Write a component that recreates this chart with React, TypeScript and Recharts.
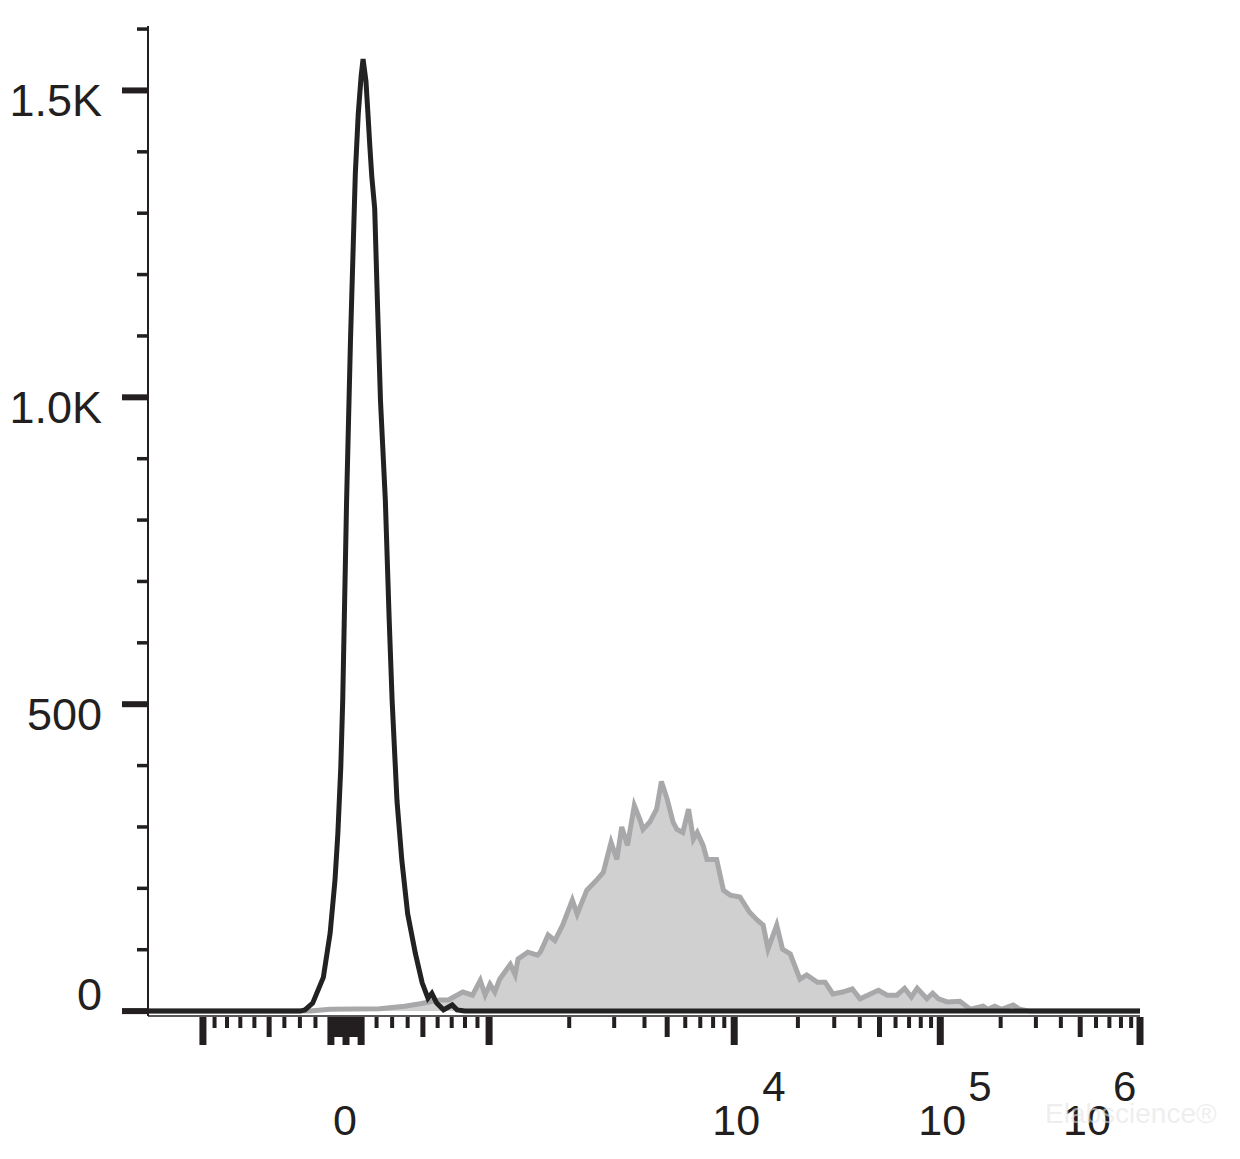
import React from "react"
import { ComposedChart, Line, Area, XAxis, YAxis } from "recharts"

// x values are display channels (0..1024) of a logicle-scaled fluorescence axis
// control histogram (black outline)
const controlChannels = [
  0, 157, 162, 170, 181, 188, 193, 196, 199, 201, 205, 209, 211, 214, 217, 220, 222, 225, 227, 229,
  231, 234, 237, 240, 245, 249, 252, 257, 262, 268, 276, 283, 289, 293, 298, 305, 314, 319, 327, 1024,
]
const controlCounts = [
  0, 0, 2, 13, 55, 127, 213, 290, 397, 506, 832, 1092, 1201, 1364, 1461, 1523, 1551, 1515, 1463, 1409,
  1360, 1308, 1146, 994, 832, 636, 506, 343, 246, 159, 94, 46, 21, 29, 13, 2, 10, 2, 0, 0,
]

// stained sample (gray filled)
const stainedChannels = [
  0, 167, 188, 239, 265, 281, 294, 301, 310, 325, 335, 343, 348, 353, 358, 363, 374, 379, 382, 392,
  402, 405, 413, 420, 428, 438, 443, 453, 464, 470, 478, 484, 489, 495, 502, 508, 511, 518, 525, 530,
  536, 542, 546, 552, 558, 563, 567, 573, 577, 587, 594, 601, 611, 621, 629, 635, 640, 649, 655, 663,
  673, 680, 691, 699, 707, 717, 727, 735, 754, 763, 773, 781, 788, 794, 804, 810, 816, 825, 838, 849,
  862, 867, 874, 881, 893, 900, 910, 1024,
]
const stainedCounts = [
  0, 0, 3, 4, 8, 12, 16, 18, 18, 31, 26, 50, 26, 44, 31, 52, 76, 59, 85, 96,
  91, 96, 124, 115, 140, 181, 158, 197, 215, 226, 275, 247, 300, 270, 335, 311, 296, 308, 329, 374,
  345, 308, 296, 291, 329, 280, 291, 270, 247, 247, 197, 189, 186, 161, 148, 140, 101, 140, 101, 93,
  52, 59, 47, 47, 28, 31, 36, 20, 34, 26, 26, 37, 23, 37, 20, 29, 20, 15, 16, 3,
  8, 3, 8, 3, 10, 3, 0, 0,
]

const yTickValues = [0, 100, 200, 300, 400, 500, 600, 700, 800, 900, 1000, 1100, 1200, 1300, 1400, 1500, 1600]
const yTickLabels: Record<number, string> = { 0: "0", 500: "500", 1000: "1.0K", 1500: "1.5K" }

const decadeLabels = [
  { value: 10000, exp: "4" },
  { value: 100000, exp: "5" },
  { value: 1000000, exp: "6" },
]

const controlData = controlChannels.map((ch, i) => ({ ch, count: controlCounts[i] }))
const stainedData = stainedChannels.map((ch, i) => ({ ch, count: stainedCounts[i] }))

const INK = "#231f20"
const FONT = "'Liberation Sans', Arial, Helvetica, sans-serif"

// biexponential (logicle-like) scale, channel units
const ZERO_CH = 204.4
const LB = 0.011194
const LD = 0.0048436
const LA = 103.2
const LC = 1104

function toValue(u: number) {
  const au = Math.abs(u)
  const v = LA * (Math.exp(LB * au) - 1) + LC * (1 - Math.exp(-LD * au))
  return u < 0 ? -v : v
}

function toChannel(v: number) {
  let lo = -400
  let hi = 1000
  for (let i = 0; i < 80; i++) {
    const mid = (lo + hi) / 2
    if (toValue(mid) < v) lo = mid
    else hi = mid
  }
  return Math.min(1024, Math.max(0, ZERO_CH + (lo + hi) / 2))
}

type TickKind = "major" | "mid" | "minor"
interface TickDef { v: number; kind: TickKind; ch: number }

function buildXTicks(): TickDef[] {
  const defs: TickDef[] = []
  const add = (v: number, kind: TickKind) => defs.push({ v, kind, ch: toChannel(v) })
  add(-1000, "major")
  for (let m = 9; m >= 2; m--) add(-m * 100, m === 5 ? "mid" : "minor")
  add(-100, "major")
  for (let m = 9; m >= 1; m--) add(-m * 10, "mid")
  add(0, "major")
  for (let m = 1; m <= 9; m++) add(m * 10, "mid")
  add(100, "major")
  for (let m = 2; m <= 9; m++) add(m * 100, m === 5 ? "mid" : "minor")
  for (const dec of [1000, 10000, 100000]) {
    add(dec, "major")
    for (let m = 2; m <= 9; m++) add(m * dec, m === 5 ? "mid" : "minor")
  }
  add(1000000, "major")
  return defs
}

const xTickDefs = buildXTicks()
const xTicks = xTickDefs.map((d) => d.ch)

const tickLen = { major: 28, mid: 20, minor: 11 }
const tickW = { major: 7, mid: 5, minor: 4 }

const XTick = (props: any) => {
  const { x, y, payload } = props
  let def = xTickDefs[0]
  for (const d of xTickDefs) {
    if (Math.abs(d.ch - payload.value) < Math.abs(def.ch - payload.value)) def = d
  }
  const w = tickW[def.kind]
  const dec = decadeLabels.find((d) => d.value === def.v)
  let label: React.ReactNode = null
  if (def.v === 0) {
    label = (
      <text x={x - 1} y={y + 119} textAnchor="middle" fontSize={43} fill={INK} fontFamily={FONT}>0</text>
    )
  } else if (dec) {
    const last = def.v === 1000000
    const baseX = last ? x - 53 : x + 2
    const supX = last ? x - 27 : x + 28
    label = (
      <g>
        <text x={baseX} y={y + 119} textAnchor="middle" fontSize={43} fill={INK} fontFamily={FONT}>10</text>
        <text x={supX} y={y + 85} textAnchor="start" fontSize={42} fill={INK} fontFamily={FONT}>{dec.exp}</text>
      </g>
    )
  }
  return (
    <g>
      <rect x={x - w / 2} y={y + 1} width={w} height={tickLen[def.kind]} fill={INK} />
      {label}
    </g>
  )
}

const YTick = (props: any) => {
  const { x, y, payload } = props
  const v = payload.value as number
  const label = yTickLabels[v]
  const major = label !== undefined
  return (
    <g>
      {major ? (
        <rect x={x - 26} y={y - 3} width={26} height={6} fill={INK} />
      ) : (
        <rect x={x - 11} y={y - 1.75} width={11} height={3.5} fill={INK} />
      )}
      {major && (
        <text
          x={x - 46}
          y={v === 0 ? y - 1 : y + 26}
          textAnchor="end"
          fontSize={45}
          fill={INK}
          fontFamily={FONT}
        >
          {label}
        </text>
      )}
    </g>
  )
}

export default function App() {
  return (
    <div style={{ position: "absolute", left: 0, top: 0, width: 1240, height: 1159, background: "#fff" }}>
      <ComposedChart width={1240} height={1159} margin={{ top: 26, right: 100, bottom: 2, left: 0 }}>
        <XAxis
          xAxisId="bottom"
          dataKey="ch"
          type="number"
          domain={[0, 1024]}
          ticks={xTicks}
          interval={0}
          tick={XTick}
          tickLine={false}
          tickSize={0}
          tickMargin={0}
          axisLine={{ stroke: INK, strokeWidth: 1.5 }}
          height={141}
          allowDataOverflow
        />
        <XAxis
          xAxisId="top"
          orientation="top"
          type="number"
          domain={[0, 1024]}
          tick={false}
          tickLine={false}
          axisLine={{ stroke: INK, strokeWidth: 2 }}
          height={0}
        />
        <YAxis
          yAxisId="left"
          type="number"
          domain={[-8, 1605]}
          ticks={yTickValues}
          interval={0}
          tick={YTick}
          tickLine={false}
          tickSize={0}
          tickMargin={0}
          axisLine={{ stroke: INK, strokeWidth: 2 }}
          width={148}
          allowDataOverflow
        />
        <YAxis
          yAxisId="right"
          orientation="right"
          type="number"
          domain={[-8, 1605]}
          tick={false}
          tickLine={false}
          axisLine={{ stroke: INK, strokeWidth: 2 }}
          width={0}
        />
        <Area
          xAxisId="bottom"
          yAxisId="left"
          data={stainedData}
          dataKey="count"
          type="linear"
          baseValue={0}
          fill="#d0d0d0"
          fillOpacity={1}
          stroke="#a8a8aa"
          strokeWidth={5}
          dot={false}
          activeDot={false}
          isAnimationActive={false}
        />
        <Line
          xAxisId="bottom"
          yAxisId="left"
          data={controlData}
          dataKey="count"
          type="linear"
          stroke="#222222"
          strokeWidth={5}
          dot={false}
          activeDot={false}
          isAnimationActive={false}
        />
      </ComposedChart>
      <div
        style={{
          position: "absolute",
          left: 1045,
          top: 1098,
          fontFamily: FONT,
          fontSize: 28,
          color: "rgba(228,228,228,0.6)",
          whiteSpace: "nowrap",
        }}
      >
        Elabscience®
      </div>
    </div>
  )
}
